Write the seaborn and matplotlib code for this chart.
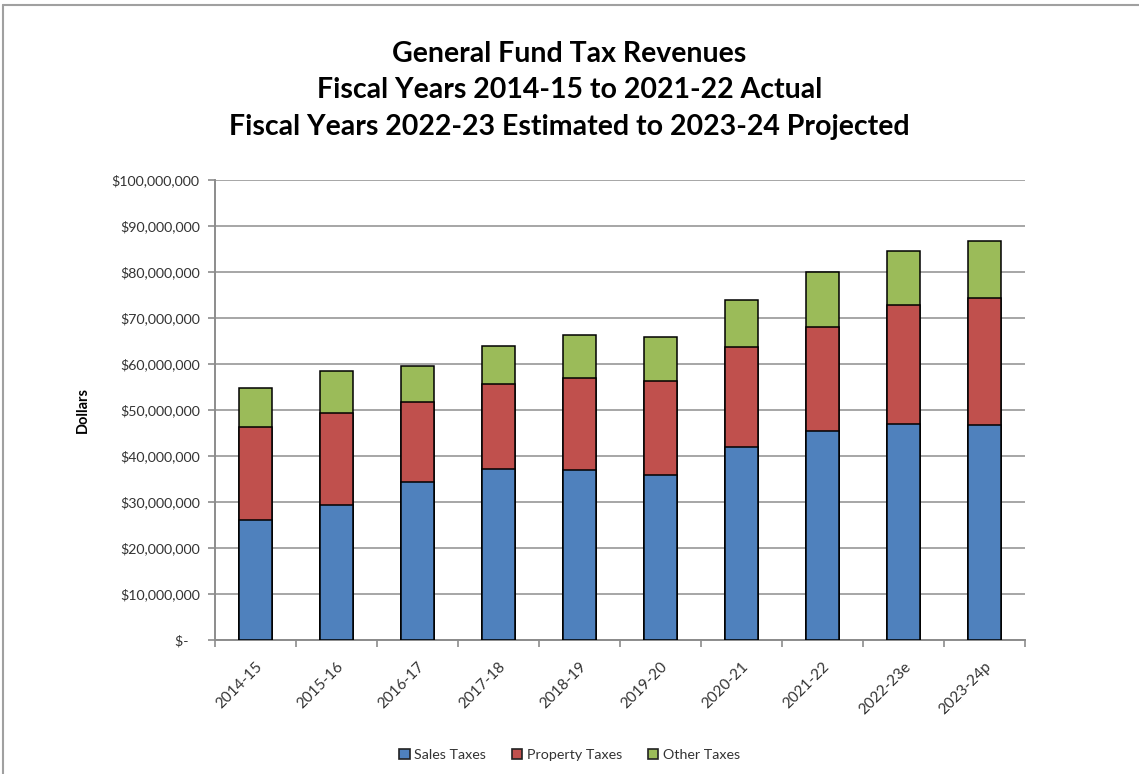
import matplotlib
matplotlib.use("Agg")
import matplotlib.pyplot as plt
from matplotlib.lines import Line2D
from matplotlib.patches import Patch
from matplotlib.ticker import FuncFormatter, MultipleLocator
import numpy as np
import pandas as pd
import seaborn as sns

# Fiscal years (e = estimated, p = projected)
years = ["2014-15", "2015-16", "2016-17", "2017-18", "2018-19",
         "2019-20", "2020-21", "2021-22", "2022-23e", "2023-24p"]

# Revenue by source, in dollars
sales_taxes = [26.1e6, 29.4e6, 34.4e6, 37.1e6, 37.0e6,
               35.9e6, 41.9e6, 45.4e6, 47.0e6, 46.8e6]
property_taxes = [20.1e6, 20.0e6, 17.3e6, 18.5e6, 20.0e6,
                  20.5e6, 21.7e6, 22.7e6, 25.8e6, 27.5e6]
other_taxes = [8.5e6, 9.1e6, 7.9e6, 8.4e6, 9.2e6,
               9.5e6, 10.3e6, 11.8e6, 11.8e6, 12.4e6]

series_names = ["Sales Taxes", "Property Taxes", "Other Taxes"]
colors = ["#4F81BD", "#C0504D", "#9BBB59"]

sns.set_theme(style="white")
plt.rcParams["font.family"] = ["Lato", "DejaVu Sans"]
plt.rcParams["text.color"] = "#333333"
plt.rcParams["xtick.color"] = "#333333"
plt.rcParams["ytick.color"] = "#333333"
plt.rcParams["axes.labelcolor"] = "black"

fig = plt.figure(figsize=(11.39, 7.74), dpi=100)
ax = fig.add_axes([215 / 1139, 1 - 640 / 774, (1025 - 215) / 1139, (640 - 180) / 774])

df = pd.DataFrame({"year": years,
                   "sales": sales_taxes,
                   "property": property_taxes,
                   "other": other_taxes})
df["top_sales"] = df["sales"]
df["top_property"] = df["sales"] + df["property"]
df["top_other"] = df["top_property"] + df["other"]

# Stack by layering cumulative totals, largest first
for col, color in zip(["top_other", "top_property", "top_sales"], colors[::-1]):
    sns.barplot(data=df, x="year", y=col, color=color, ax=ax, width=0.41,
                edgecolor="black", linewidth=1.1, saturation=1, zorder=3)

ax.set_xlim(-0.5, len(years) - 0.5)
ax.set_ylim(0, 100e6)
ax.yaxis.set_major_locator(MultipleLocator(10e6))


def dollars(v, pos):
    if v == 0:
        return "$-   "
    return f"${v:,.0f}"


ax.yaxis.set_major_formatter(FuncFormatter(dollars))
ax.grid(axis="y", color="#A6A6A6", linewidth=1.4, zorder=0)
ax.set_axisbelow(True)

for side in ["top", "right"]:
    ax.spines[side].set_visible(False)
for side in ["left", "bottom"]:
    ax.spines[side].set_color("#8C8C8C")
    ax.spines[side].set_linewidth(1.4)

ax.tick_params(axis="y", which="major", left=True, length=5, width=1.2,
               color="#8C8C8C", labelsize=10.2, pad=6)
ax.set_xticks(np.arange(len(years)))
ax.set_xticklabels(years, rotation=45, ha="right", rotation_mode="anchor",
                   fontsize=11)
ax.tick_params(axis="x", which="major", bottom=False, pad=8)
ax.set_xticks(np.arange(-0.5, len(years)), minor=True)
ax.tick_params(axis="x", which="minor", bottom=True, length=5, width=1.2,
               color="#8C8C8C")

ax.set_xlabel("")
ax.set_ylabel("Dollars", fontsize=10.5, fontweight="bold", labelpad=16)

fig.text(0.5, 1 - 41 / 774,
         "General Fund Tax Revenues\nFiscal Years 2014-15 to 2021-22 Actual\n"
         "Fiscal Years 2022-23 Estimated to 2023-24 Projected",
         ha="center", va="top", fontsize=20.5, fontweight="bold",
         color="black", linespacing=1.5)

handles = [Patch(facecolor=c, edgecolor="#222222", linewidth=1.2) for c in colors]
fig.legend(handles, series_names, loc="center", bbox_to_anchor=(0.5, 1 - 755 / 774),
           ncol=3, frameon=False, fontsize=10.3, handlelength=0.75,
           handleheight=0.75, handletextpad=0.3, columnspacing=1.8)

# Outer chart border
fig.add_artist(Line2D([3 / 1139, 3 / 1139], [0, 1 - 5 / 774],
                      transform=fig.transFigure, color="#A0A0A0", linewidth=1.5))
fig.add_artist(Line2D([3 / 1139, 1], [1 - 5 / 774, 1 - 5 / 774],
                      transform=fig.transFigure, color="#A0A0A0", linewidth=1.5))

fig.savefig("out.png", dpi=100, facecolor="white")
